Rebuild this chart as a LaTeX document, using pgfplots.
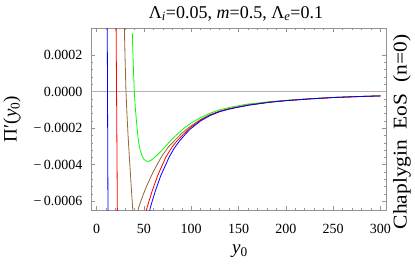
\documentclass[border=0pt]{standalone}
\usepackage{fontspec}
\setmainfont{Liberation Serif}
\newfontfamily\widefont[FakeStretch=1.1]{Liberation Serif}
\usepackage{pgfplots}
\pgfplotsset{compat=1.18}
\definecolor{mmaBrown}{rgb}{0.6,0.4,0.2}
\definecolor{mmaGreen}{rgb}{0,1,0}
\definecolor{mmaBlue}{rgb}{0,0,1}
\definecolor{mmaRed}{rgb}{1,0,0}
\begin{document}
\begin{tikzpicture}
\useasboundingbox (-91bp,-54bp) rectangle (324bp,210bp);
\begin{axis}[
  name=ax,
  at={(0,0)}, anchor=south west,
  scale only axis, width=295bp, height=182bp,
  xmin=-6, xmax=306, ymin=-0.000648, ymax=0.000348,
  axis line style={gray!85, line width=0.5bp},
  xtick={0,50,100,150,200,250,300},
  xticklabels={0,50,100,150,200,250,300},
  minor x tick num=4,
  ytick={-0.0006,-0.0004,-0.0002,0,0.0002},
  yticklabels={−\,0.0006,−\,0.0004,−\,0.0002,0.0000,0.0002},
  minor y tick num=4,
  scaled y ticks=false,
  tick style={gray!85, line width=0.5bp},
  major tick length=4bp, minor tick length=2.3bp,
  tick label style={font=\fontsize{14bp}{16bp}\selectfont, text=black},
  xticklabel style={anchor=base, yshift=-23bp},
  yticklabel style={anchor=east, inner sep=0pt, xshift=-8.5bp},
  extra y ticks={0}, extra y tick labels={},
  extra y tick style={grid=major, major grid style={gray!60, line width=0.7bp}, tick style={draw=none}},
  clip=true,
  every axis plot/.append style={line width=0.8bp, mark=none},
]
% green
\addplot[mmaGreen] coordinates {
(37.7,0.00032)(38.0,0.00026)(38.5,0.00018)(39.1,0.00009)(39.8,0)(40.9,-0.00009)
(42.4,-0.00018)(44.1,-0.00027)(46,-0.00032)(48,-0.000352)(50,-0.00037)(52,-0.000379)
(54,-0.000382)(56,-0.00038)(58,-0.000374)(60,-0.000366)(63.5,-0.00035)(67,-0.000332)
(72,-0.000304)(77.6,-0.000272)(82,-0.000249)(88,-0.00022)(94,-0.000194)(100,-0.000172)
(110,-0.000142)(120,-0.000118)(130,-0.0001)(141,-0.000086)(160,-0.000068)
(183,-0.000055)(200,-0.000048)(225,-0.000039)(250,-0.000032)(275,-0.000027)(300,-0.0000234)};
% brown
\addplot[mmaBrown] coordinates {
(29.0,0.0004)(29.3,0.00034)(30.1,0.00017)(31.0,0.0)(32.1,-0.00013)(33.3,-0.00025)
(34.6,-0.00036)(36.3,-0.0005)(38.1,-0.00064)(38.8,-0.0007)};
\addplot[mmaBrown] coordinates {
(43.5,-0.0007)(44.1,-0.00064)(48,-0.00058)(53,-0.000515)(60,-0.000437)(68.9,-0.000353)
(76,-0.000302)(83,-0.000265)(90,-0.000228)(99,-0.00019)(110,-0.000152)(120,-0.000126)
(130,-0.000107)(141,-0.000092)(160,-0.000073)(183,-0.0000575)(200,-0.0000492)
(225,-0.00004)(250,-0.0000323)(275,-0.0000274)(300,-0.0000234)};
% red
\addplot[mmaRed] coordinates {(20.5,0.0004)(21.95,-0.0007)};
\addplot[mmaRed] coordinates {
(51.5,-0.0007)(53,-0.00064)(56,-0.000588)(59,-0.00054)(64.6,-0.000458)(73.5,-0.000355)
(80,-0.000302)(85.3,-0.000268)(92,-0.000232)(99,-0.000197)(110,-0.000156)(120,-0.000128)
(130,-0.000108)(141,-0.000093)(160,-0.000074)(183,-0.0000578)(200,-0.0000494)
(225,-0.00004)(250,-0.0000324)(275,-0.0000275)(300,-0.0000235)};
% blue
\addplot[mmaBlue] coordinates {(11.15,0.0004)(12.0,-0.0007)};
\addplot[mmaBlue] coordinates {
(55,-0.0007)(56.5,-0.00064)(59,-0.000595)(61.8,-0.000548)(67.8,-0.00046)(76.7,-0.000358)
(82,-0.00031)(88,-0.000268)(94,-0.000232)(99,-0.000205)(110,-0.00016)(120,-0.000131)
(130,-0.00011)(141,-0.000095)(160,-0.000075)(183,-0.0000585)(200,-0.0000497)
(225,-0.0000402)(250,-0.0000325)(275,-0.0000276)(300,-0.0000236)};
\end{axis}
\node[anchor=base, font=\fontsize{18bp}{20bp}\selectfont] at ([xshift=-2.5bp,yshift=9.7bp]ax.north)
  {Λ\textsubscript{\textit{i}}=0.05, \textit{m}=0.5, Λ\textsubscript{\textit{e}}=0.1};
\node[anchor=base, font=\fontsize{19bp}{21bp}\selectfont] at ([xshift=1.5bp,yshift=-43bp]ax.south)
  {\textit{y}\textsubscript{0}};
\node[rotate=90, anchor=center, font=\fontsize{19bp}{21bp}\selectfont] at ([xshift=-79bp]ax.west)
  {Π′(\textit{y}\textsubscript{0})};
\node[rotate=90, anchor=center, font=\widefont\fontsize{19.5bp}{21bp}\selectfont] at ([xshift=16bp,yshift=-13bp]ax.east)
  {Chaplygin\ \ EoS\ \ (n=0)};
\end{tikzpicture}
\end{document}
